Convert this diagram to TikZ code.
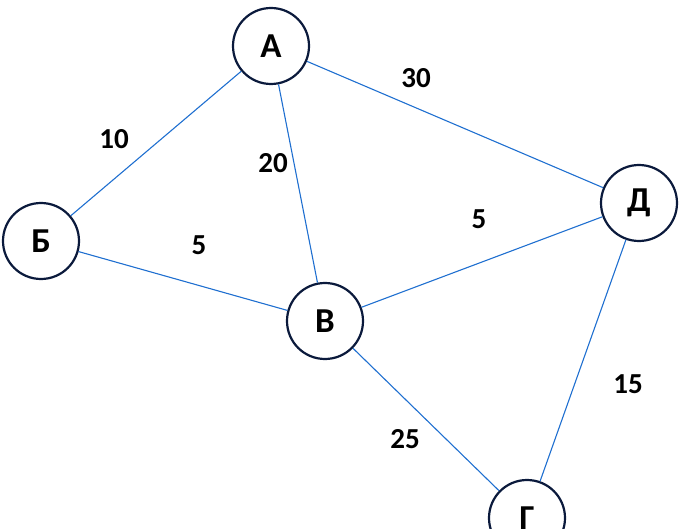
\documentclass[tikz,border=0pt]{standalone}
\usepackage{fontspec}
\setmainfont{Carlito}
\definecolor{ringcol}{HTML}{0B1A3C}
\definecolor{edgecol}{HTML}{1F6FD0}
\begin{document}
\begin{tikzpicture}[x=1pt,y=-1pt,
  vert/.style={circle,draw=ringcol,line width=2.2pt,minimum size=76pt,inner sep=0pt,
    font=\fontsize{35}{37}\selectfont\bfseries},
  edge/.style={draw=edgecol,line width=1.1pt},
  wlab/.style={font=\fontsize{29}{31}\selectfont\bfseries,inner sep=0pt}]
\useasboundingbox (0,0) rectangle (685,529);
\clip (0,0) rectangle (685,529);
\node[vert] (A) at (271,46) {А};
\node[vert] (B) at (41,241) {Б};
\node[vert] (V) at (325,321) {В};
\node[vert] (D) at (639,203) {Д};
\node[vert] (G) at (527,518) {Г};
\draw[edge] (A) -- (B);
\draw[edge] (A) -- (V);
\draw[edge] (A) -- (D);
\draw[edge] (B) -- (V);
\draw[edge] (V) -- (D);
\draw[edge] (V) -- (G);
\draw[edge] (D) -- (G);
\node[wlab] (l1) at (416,78) {30};
\node[wlab] (l2) at (114,139) {10};
\node[wlab] (l3) at (273,163) {20};
\node[wlab] (l4) at (199,245) {5};
\node[wlab] (l5) at (479,219) {5};
\node[wlab] (l6) at (405,439) {25};
\node[wlab] (l7) at (628,384) {15};
\end{tikzpicture}
\end{document}
